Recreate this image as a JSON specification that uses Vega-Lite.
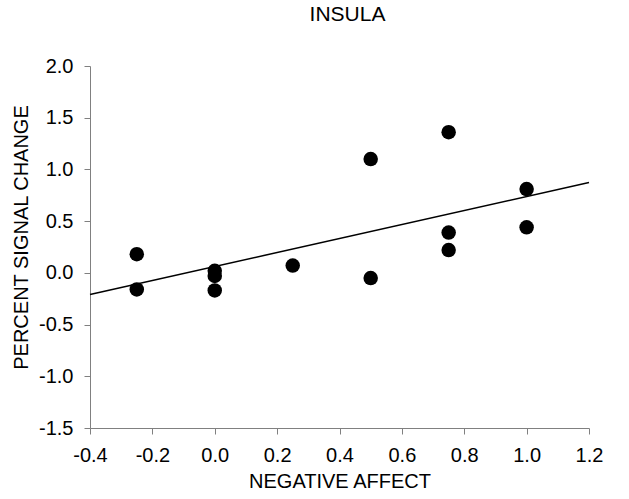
{
  "$schema": "https://vega.github.io/schema/vega-lite/v6.json",
  "width": 499,
  "height": 362,
  "autosize": "none",
  "padding": {"left": 90, "top": 66, "right": 40, "bottom": 71},
  "background": "white",
  "config": {
    "view": {"stroke": null},
    "font": "Liberation Sans",
    "axis": {
      "grid": false,
      "domainColor": "#808080",
      "tickColor": "#808080",
      "tickSize": 6,
      "labelFont": "Liberation Sans",
      "labelFontSize": 20,
      "labelColor": "black",
      "titleFont": "Liberation Sans",
      "titleFontSize": 20,
      "titleFontWeight": "normal",
      "titleColor": "black"
    }
  },
  "title": {
    "text": "INSULA",
    "font": "Liberation Sans",
    "fontSize": 21,
    "fontWeight": "normal",
    "color": "black",
    "anchor": "middle",
    "offset": 31,
    "dx": 8
  },
  "data": {
    "values": [
      {"x": -0.25, "y": 0.18},
      {"x": -0.25, "y": -0.16},
      {"x": 0, "y": 0.02},
      {"x": 0, "y": -0.03},
      {"x": 0, "y": -0.17},
      {"x": 0.25, "y": 0.07},
      {"x": 0.5, "y": 1.10},
      {"x": 0.5, "y": -0.05},
      {"x": 0.75, "y": 1.36},
      {"x": 0.75, "y": 0.39},
      {"x": 0.75, "y": 0.22},
      {"x": 1.0, "y": 0.81},
      {"x": 1.0, "y": 0.44}
    ]
  },
  "encoding": {
    "x": {
      "field": "x",
      "type": "quantitative",
      "scale": {"domain": [-0.4, 1.2], "nice": false, "zero": false},
      "axis": {"title": "NEGATIVE AFFECT", "values": [-0.4, -0.2, 0, 0.2, 0.4, 0.6, 0.8, 1.0, 1.2], "labelExpr": "replace(format(datum.value, '.1f'), '\u2212', '-')", "labelPadding": 11, "titlePadding": 6, "labelFlush": false}
    },
    "y": {
      "field": "y",
      "type": "quantitative",
      "scale": {"domain": [-1.5, 2.0], "nice": false, "zero": false},
      "axis": {"title": "PERCENT SIGNAL CHANGE", "values": [-1.5, -1, -0.5, 0, 0.5, 1, 1.5, 2], "labelExpr": "replace(format(datum.value, '.1f'), '\u2212', '-')", "labelPadding": 11, "titleX": -59, "titleY": 171, "labelFlush": false}
    }
  },
  "layer": [
    {
      "mark": {"type": "circle", "size": 210, "color": "black", "opacity": 1}
    },
    {
      "transform": [{"regression": "y", "on": "x", "extent": [-0.4, 1.2]}],
      "mark": {"type": "line", "color": "black", "strokeWidth": 1.5}
    }
  ]
}
